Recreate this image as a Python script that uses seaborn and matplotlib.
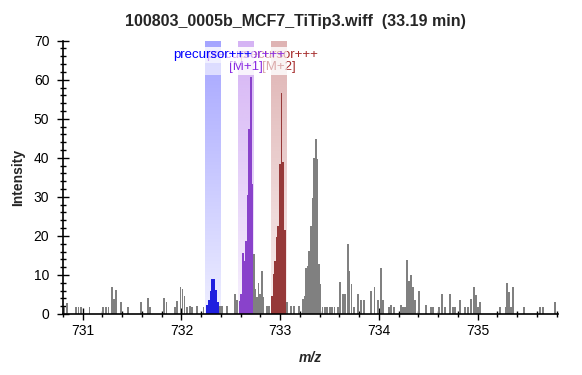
import numpy as np
import pandas as pd
import matplotlib
matplotlib.use("Agg")
import matplotlib.pyplot as plt
from matplotlib.colors import to_rgb
from matplotlib.ticker import MultipleLocator
import seaborn as sns

# profile spectrum (m/z, intensity)
mz = [730.811, 730.841, 730.932, 730.957, 730.983, 731.069, 731.205, 731.236, 731.261, 731.297,
      731.317, 731.337, 731.388, 731.458, 731.590, 731.661, 731.681, 731.823, 731.848, 731.934,
      731.954, 731.990, 732.010, 732.030, 732.056, 732.086, 732.106, 732.157, 732.223,
      732.258, 732.276, 732.294, 732.312, 732.330, 732.348, 732.366,
      732.392, 732.410, 732.461, 732.541, 732.561,
      732.589, 732.605, 732.621, 732.637, 732.653, 732.669, 732.685, 732.701, 732.717,
      732.733, 732.749, 732.765, 732.781, 732.797, 732.813, 732.829, 732.865, 732.886,
      732.917, 732.933, 732.949, 732.965, 732.981, 732.997, 733.013, 733.029, 733.045,
      733.070, 733.108, 733.139, 733.189,
      733.230, 733.246, 733.262, 733.278, 733.295, 733.311, 733.327, 733.343, 733.359, 733.375,
      733.391, 733.408, 733.429, 733.452, 733.476, 733.503, 733.526, 733.550, 733.586, 733.604,
      733.635, 733.655, 733.685, 733.701, 733.721, 733.746, 733.786, 733.822, 733.847, 733.918,
      733.955, 733.989, 734.019, 734.039, 734.100, 734.120, 734.156, 734.221, 734.242, 734.262,
      734.284, 734.305, 734.326, 734.343, 734.363, 734.409, 734.475, 734.525, 734.545, 734.606,
      734.636, 734.667, 734.717, 734.748, 734.773, 734.824, 734.869, 734.900, 734.930, 734.963,
      734.982, 735.001, 735.021, 735.224, 735.284, 735.300, 735.318, 735.335, 735.355, 735.466,
      735.628, 735.659, 735.785]
intensity = [1.7, 2.9, 1.9, 1.9, 1.9, 1.9, 1.9, 1.9, 1.9, 6.8,
             3.9, 6.2, 3.0, 1.9, 3.0, 4.0, 1.7, 4.2, 3.0, 1.9,
             3.2, 6.9, 6.4, 4.5, 1.9, 2.0, 1.7, 2.0, 1.8,
             2.4, 3.7, 6.0, 9.0, 9.0, 6.2, 3.0,
             2.0, 2.0, 2.0, 5.0, 3.5,
             3.2, 5.0, 15.7, 13.6, 18.7, 30.6, 47.4, 60.7, 33.2,
             15.4, 6.3, 4.4, 8.0, 5.1, 11.1, 4.4, 2.0, 2.0,
             4.5, 10.3, 13.5, 19.7, 22.5, 38.3, 56.5, 39.0, 21.5,
             3.0, 2.0, 2.0, 2.0,
             3.9, 4.7, 11.9, 12.3, 16.2, 22.5, 29.7, 40.0, 44.8, 39.6,
             12.8, 7.7, 1.7, 1.7, 1.7, 1.7, 1.7, 1.7, 1.7, 8.1,
             5.0, 5.0, 17.9, 11.0, 7.7, 1.7, 5.0, 3.7, 3.7, 6.0,
             6.9, 3.7, 11.8, 3.7, 1.7, 2.3, 1.7, 2.3, 1.7, 1.7,
             13.9, 8.5, 10.0, 6.8, 3.7, 6.0, 2.3, 1.7, 1.7, 1.7,
             5.2, 1.7, 5.2, 1.7, 1.7, 3.7, 1.7, 1.7, 3.8, 6.8,
             4.9, 1.7, 3.0, 1.9, 1.9, 7.9, 5.6, 1.9, 7.0, 1.9,
             1.9, 1.9, 3.0]

band_names = ["precursor", "M+1", "M+2"]
band_lo = [732.238, 732.569, 732.906]
band_hi = [732.390, 732.727, 733.058]
band_colors = ["#0000ff", "#8a2be2", "#a52a2a"]
band_labels = ["precursor+++", "precursor+++\n[M+1]", "precursor+++\n[M+2]"]

x_ticks = [731, 732, 733, 734, 735]
y_ticks = [0, 10, 20, 30, 40, 50, 60, 70]
title = "100803_0005b_MCF7_TiTip3.wiff  (33.19 min)"

BAR_W = 0.018  # drawn width of one profile point, in m/z

df = pd.DataFrame({"mz": mz, "intensity": intensity})
df["ion"] = "other"
for name, lo, hi in zip(band_names, band_lo, band_hi):
    df.loc[(df.mz >= lo) & (df.mz <= hi), "ion"] = name

palette = {"other": "#808080"}
palette.update(dict(zip(band_names, band_colors)))

sns.set_style("ticks")
plt.rcParams["font.family"] = ["Liberation Sans", "DejaVu Sans"]

fig = plt.figure(figsize=(5.82, 3.75), dpi=100)
ax = fig.add_axes([0.1074, 0.1627, 0.8508, 0.7288])

# shaded isotope windows, fading towards the baseline
for lo, hi, c in zip(band_lo, band_hi, band_colors):
    grad = np.zeros((100, 1, 4))
    grad[:, 0, :3] = to_rgb(c)
    grad[:, 0, 3] = np.linspace(0.36, 0.07, 100)
    ax.imshow(grad, extent=(lo, hi, 0, 70), aspect="auto", zorder=0,
              interpolation="bilinear")

sns.barplot(data=df, x="mz", y="intensity", hue="ion", palette=palette,
            native_scale=True, errorbar=None, legend=False,
            orient="x", dodge=False, linewidth=0, antialiased=False,
            ax=ax, zorder=2)

# make the profile bars touch, keeping each centred on its m/z
for p in ax.patches:
    if p.get_height() > 0:
        cx = p.get_x() + p.get_width() / 2
        p.set_width(BAR_W)
        p.set_x(cx - BAR_W / 2)

for i in [2, 1, 0]:
    ax.text((band_lo[i] + band_hi[i]) / 2, 67.9, band_labels[i], ha="center", va="top",
            color=band_colors[i], fontsize=9.5, linespacing=1.05, zorder=5,
            bbox=dict(boxstyle="square,pad=0.15", fc="white", ec="none", alpha=0.6))

ax.set_xlim(730.795, 735.81)
ax.set_ylim(0, 70)
ax.set_xticks(x_ticks)
ax.set_yticks(y_ticks)
ax.xaxis.set_minor_locator(MultipleLocator(0.2))
ax.yaxis.set_minor_locator(MultipleLocator(2))
ax.tick_params(which="major", direction="inout", length=9, width=1,
               labelsize=10, color="black", labelcolor="black")
ax.tick_params(which="minor", direction="inout", length=5, width=1, color="black")
ax.tick_params(axis="y", pad=5)
ax.tick_params(axis="x", pad=3)
sns.despine(ax=ax)
for s in ["left", "bottom"]:
    ax.spines[s].set_linewidth(1.2)
    ax.spines[s].set_color("black")

ax.set_xlabel("m/z", fontsize=10, fontweight="bold", fontstyle="italic", labelpad=9)
ax.set_ylabel("Intensity", fontsize=10, fontweight="bold", labelpad=6)
fig.text(0.508, 0.943, title, ha="center", va="center", fontsize=11.5, fontweight="bold")

fig.savefig("out.png", dpi=100)
